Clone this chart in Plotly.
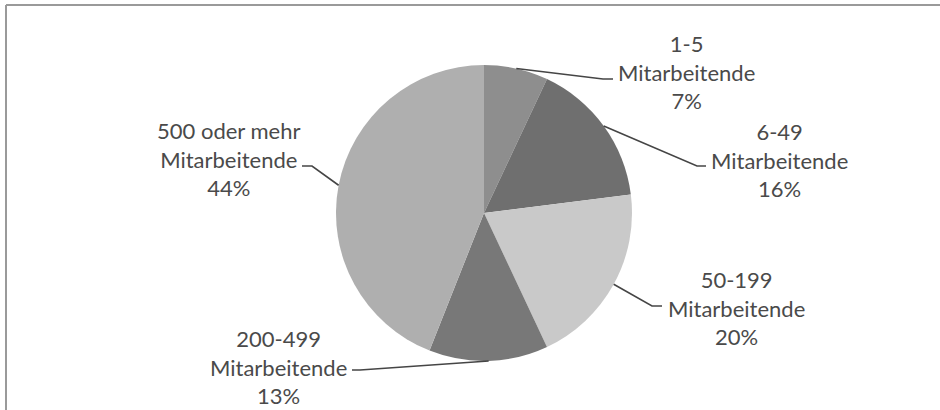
import math

import plotly.graph_objects as go

# data (clockwise from 12 o'clock)
labels = [
    "1-5 Mitarbeitende",
    "6-49 Mitarbeitende",
    "50-199 Mitarbeitende",
    "200-499 Mitarbeitende",
    "500 oder mehr Mitarbeitende",
]
label_lines = [
    ["1-5", "Mitarbeitende"],
    ["6-49", "Mitarbeitende"],
    ["50-199", "Mitarbeitende"],
    ["200-499", "Mitarbeitende"],
    ["500 oder mehr", "Mitarbeitende"],
]
shares = [7, 16, 20, 13, 44]
colors = ["#8e8e8e", "#6f6f6f", "#c9c9c9", "#787878", "#afafaf"]

W, H = 940, 410
CX, CY, R = 484, 213, 148  # pie centre / radius in px

# label centre (px) and leader elbow / end (px), per slice
label_pos = [(686, 72), (779, 160), (736, 308), (278, 367), (229, 159)]
leader_elbow = [(603, 79), (697, 166), (652, 306), (360, 370), (312, 166)]
leader_end = [(613, 79), (706, 166), (662, 306), (352, 370), (302, 166)]

TEXT = "#4a4a4a"
FONT = "Lato"


def px(x, y):
    return x / W, 1 - y / H


fig = go.Figure(
    go.Pie(
        labels=labels,
        values=shares,
        sort=False,
        direction="clockwise",
        rotation=0,
        marker=dict(colors=colors, line=dict(width=0)),
        textinfo="none",
        hoverinfo="label+percent",
        domain=dict(x=[(CX - R) / W, (CX + R) / W], y=[1 - (CY + R) / H, 1 - (CY - R) / H]),
        showlegend=False,
    )
)

total = sum(shares)
cum = 0
for i, v in enumerate(shares):
    mid = (cum + v / 2) / total * 2 * math.pi
    cum += v
    sx, sy = CX + R * math.sin(mid), CY - R * math.cos(mid)
    pts = [(sx, sy), leader_elbow[i], leader_end[i]]
    path = "M " + " L ".join(f"{px(x, y)[0]},{px(x, y)[1]}" for x, y in pts)
    fig.add_shape(type="path", path=path, xref="paper", yref="paper",
                  line=dict(color="#454545", width=1.6))
    lx, ly = px(*label_pos[i])
    text = "<br>".join(label_lines[i] + [f"{round(v / total * 100)}%"])
    fig.add_annotation(x=lx, y=ly, xref="paper", yref="paper", text=text,
                       showarrow=False, align="center", xanchor="center", yanchor="middle",
                       font=dict(family=FONT, size=22, color=TEXT))

# chart frame (only top and left edges fall inside the crop)
x0, y0 = px(6, 5)
fig.add_shape(type="line", xref="paper", yref="paper", x0=x0, y0=y0, x1=1, y1=y0,
              line=dict(color="#9a9a9a", width=2))
fig.add_shape(type="line", xref="paper", yref="paper", x0=x0, y0=y0, x1=x0, y1=0,
              line=dict(color="#9a9a9a", width=2))

fig.update_layout(
    width=W,
    height=H,
    margin=dict(l=0, r=0, t=0, b=0),
    paper_bgcolor="white",
    plot_bgcolor="white",
)

# the page body has an 8px default margin; drop it so the figure sits at 0,0
fig.write_html(
    "out.html",
    config=dict(displayModeBar=False),
    post_script="document.body.style.margin = '0';",
)
